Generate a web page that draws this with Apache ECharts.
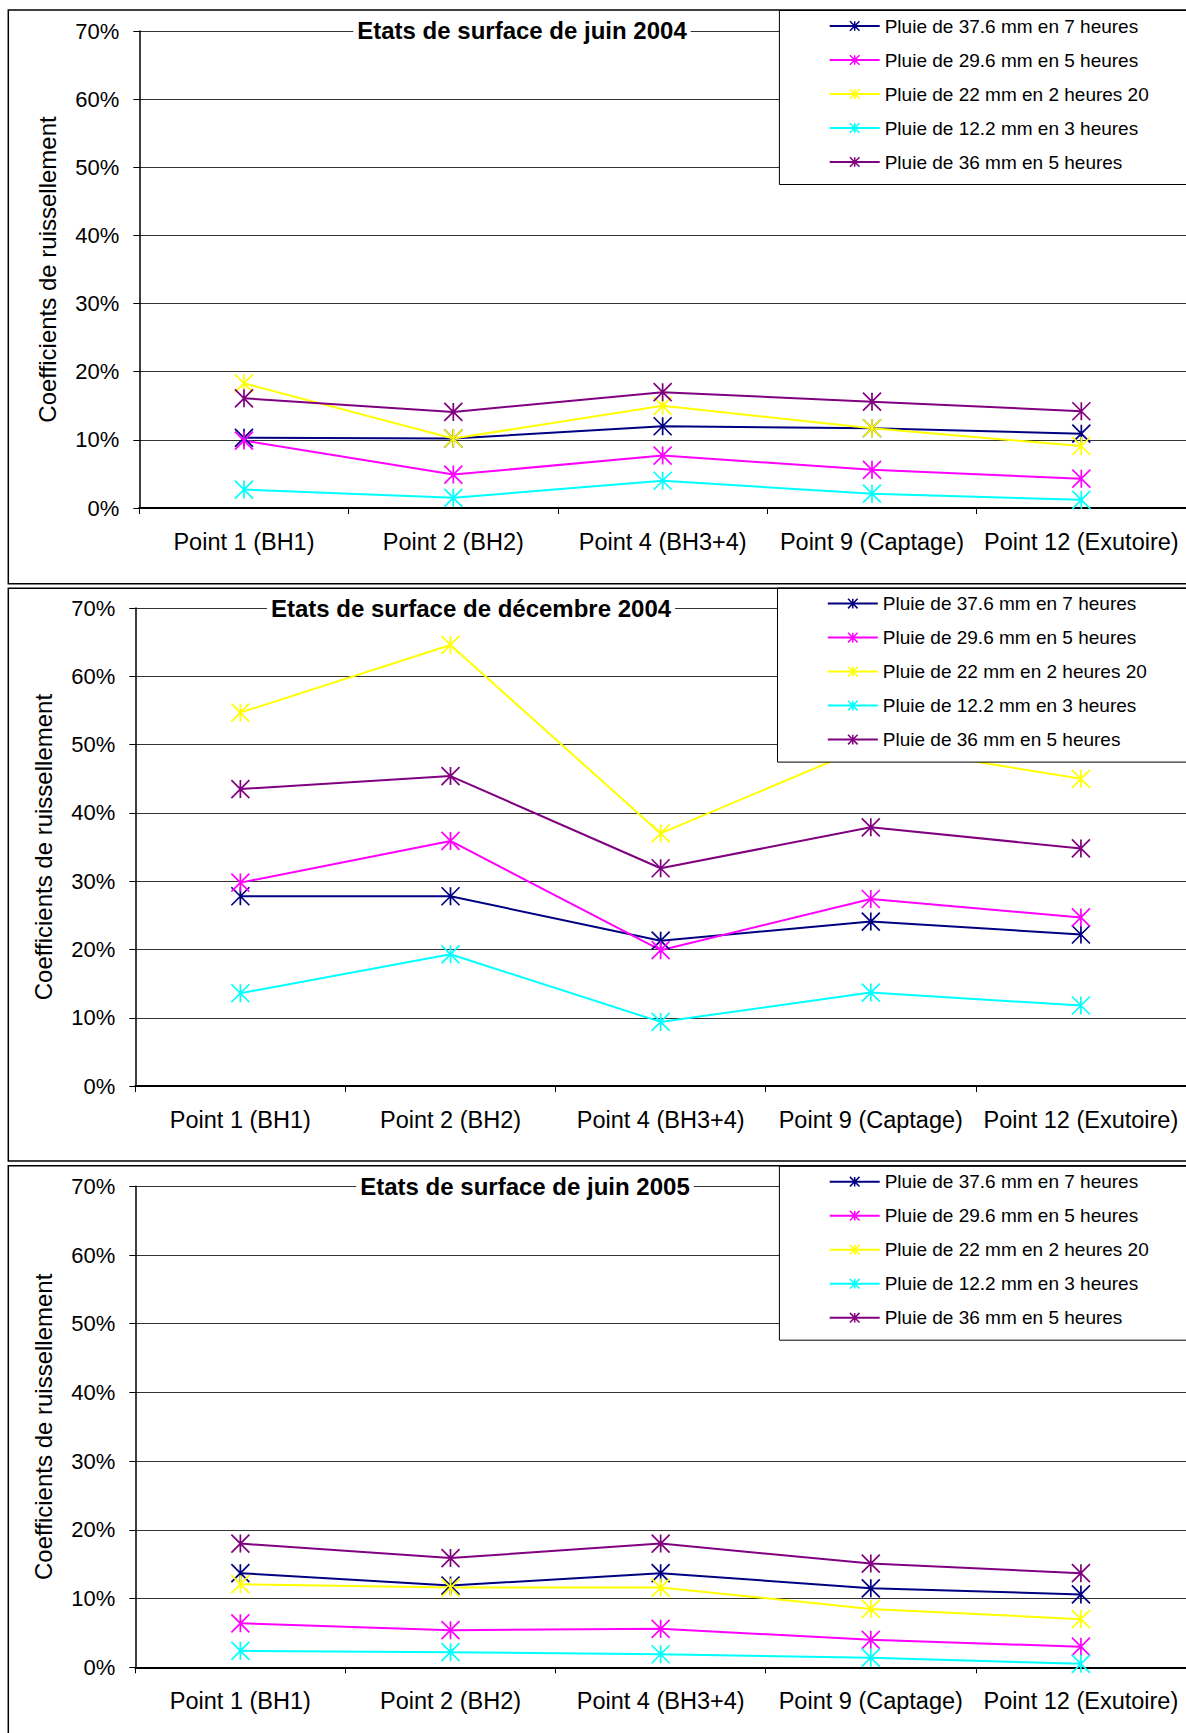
<!DOCTYPE html>
<html><head><meta charset="utf-8">
<script src="https://cdn.jsdelivr.net/npm/echarts@6/dist/echarts.min.js"></script>
<style>html,body{margin:0;padding:0;background:#fff}#c{width:1186px;height:1733px}</style>
</head><body><div id="c"></div>
<script>
// ---------- DATA ----------
const categories = ['Point 1 (BH1)', 'Point 2 (BH2)', 'Point 4 (BH3+4)', 'Point 9 (Captage)', 'Point 12 (Exutoire)'];
const seriesNames = ['Pluie de 37.6 mm en 7 heures', 'Pluie de 29.6 mm en 5 heures', 'Pluie de 22 mm en 2 heures 20', 'Pluie de 12.2 mm en 3 heures', 'Pluie de 36 mm en 5 heures'];
const panelTitles = ['Etats de surface de juin 2004', 'Etats de surface de décembre 2004', 'Etats de surface de juin 2005'];
const yAxisTitle = 'Coefficients de ruissellement';
const yMin = 0, yMax = 70, yStep = 10; // tick labels 0% .. 70%

// juin 2004 (%)
const juin2004_pluie37_6 = [10.3, 10.2, 12.0, 11.7, 10.9];
const juin2004_pluie29_6 = [9.9, 4.9, 7.7, 5.6, 4.3];
const juin2004_pluie22 = [18.3, 10.2, 15.0, 11.7, 9.1];
const juin2004_pluie12_2 = [2.7, 1.5, 4.0, 2.1, 1.2];
const juin2004_pluie36 = [16.1, 14.1, 17.0, 15.6, 14.2];

// décembre 2004 (%)
const dec2004_pluie37_6 = [27.8, 27.8, 21.3, 24.1, 22.2];
const dec2004_pluie29_6 = [29.8, 35.9, 19.9, 27.4, 24.7];
const dec2004_pluie22 = [54.7, 64.6, 37.0, 50.0, 45.0];
const dec2004_pluie12_2 = [13.6, 19.3, 9.4, 13.7, 11.8];
const dec2004_pluie36 = [43.5, 45.4, 31.9, 37.9, 34.8];

// juin 2005 (%)
const juin2005_pluie37_6 = [13.7, 11.9, 13.7, 11.5, 10.6];
const juin2005_pluie29_6 = [6.4, 5.4, 5.6, 4.0, 3.0];
const juin2005_pluie22 = [12.1, 11.6, 11.6, 8.5, 7.0];
const juin2005_pluie12_2 = [2.4, 2.2, 1.9, 1.4, 0.5];
const juin2005_pluie36 = [18.0, 15.9, 18.0, 15.1, 13.7];

const panelData = [
  [juin2004_pluie37_6, juin2004_pluie29_6, juin2004_pluie22, juin2004_pluie12_2, juin2004_pluie36],
  [dec2004_pluie37_6, dec2004_pluie29_6, dec2004_pluie22, dec2004_pluie12_2, dec2004_pluie36],
  [juin2005_pluie37_6, juin2005_pluie29_6, juin2005_pluie22, juin2005_pluie12_2, juin2005_pluie36]
];

// ---------- STYLE / LAYOUT ----------
const colors = ['#000080', '#FF00FF', '#FFFF00', '#00FFFF', '#800080'];
const FONT = '"Liberation Sans", Arial, sans-serif';
const STAR = 'path://M0 0L20 20M20 0L0 20M10 0L10 20';

const grids = [
  {left: 139.3, top: 31, width: 1053, height: 477},
  {left: 135.3, top: 608.1, width: 1055, height: 478},
  {left: 135.3, top: 1186.3, width: 1055, height: 481}
];
const titlePos = [[522, 30.5], [471, 608], [525, 1186]];
const legendPos = [[779.4, 10.5], [777.5, 588.1], [779.4, 1166.2]];
const panelRects = [[8.3, 10, 1300, 573.7], [8.3, 588.3, 1300, 572.7], [8.3, 1165.7, 1300, 700]];

const option = {
  animation: false,
  backgroundColor: '#fff',
  grid: grids.map(g => Object.assign({containLabel: false}, g)),
  xAxis: grids.map((g, i) => ({
    type: 'category', gridIndex: i, data: categories, boundaryGap: true,
    axisLine: {lineStyle: {color: '#000', width: 2}},
    axisTick: {show: true, length: 6, lineStyle: {color: '#000', width: 1}},
    axisLabel: {interval: 0, color: '#000', fontSize: 23.5, fontFamily: FONT, margin: 22},
    splitLine: {show: false}
  })),
  yAxis: grids.map((g, i) => ({
    type: 'value', gridIndex: i, min: yMin, max: yMax, interval: yStep,
    name: yAxisTitle, nameLocation: 'middle', nameRotate: 90, nameGap: 80,
    nameTextStyle: {fontSize: 24, color: '#000', fontFamily: FONT},
    axisLine: {show: true, lineStyle: {color: '#000', width: 1.5}},
    axisTick: {show: true, length: 6, lineStyle: {color: '#000', width: 1}},
    axisLabel: {formatter: '{value}%', color: '#000', fontSize: 22, fontFamily: FONT, margin: 20},
    splitLine: {show: true, lineStyle: {color: '#333', width: 1}}
  })),
  legend: legendPos.map(p => ({
    left: p[0], top: p[1], orient: 'vertical', data: seriesNames,
    itemWidth: 50, itemHeight: 12, itemGap: 14,
    padding: [5.5, 400, 12.5, 49.3],
    backgroundColor: '#fff', borderColor: '#000', borderWidth: 1,
    selectedMode: false,
    itemStyle: {borderWidth: 1.5},
    lineStyle: {width: 2},
    textStyle: {fontSize: 19, color: '#000', fontFamily: FONT, lineHeight: 20}
  })),
  series: [],
  graphic: []
};

panelData.forEach((sets, i) => {
  sets.forEach((vals, j) => {
    option.series.push({
      type: 'line', name: seriesNames[j], xAxisIndex: i, yAxisIndex: i,
      data: vals, symbol: STAR, symbolSize: 18, showAllSymbol: true,
      lineStyle: {color: colors[j], width: 2},
      itemStyle: {color: colors[j], borderColor: colors[j], borderWidth: 1.7},
      emphasis: {disabled: true}
    });
  });
});

panelRects.forEach(r => {
  option.graphic.push({type: 'rect', z: 20, silent: true,
    shape: {x: r[0], y: r[1], width: r[2], height: r[3]},
    style: {fill: 'none', stroke: '#000', lineWidth: 1.5}});
});
panelTitles.forEach((t, i) => {
  option.graphic.push({type: 'text', z: 20, silent: true, x: titlePos[i][0], y: titlePos[i][1],
    style: {text: t, fill: '#000', fontSize: 24, fontWeight: 'bold', fontFamily: FONT,
      align: 'center', verticalAlign: 'middle', backgroundColor: '#fff', padding: [1, 4]}});
});

const chart = echarts.init(document.getElementById('c'), null, {renderer: 'svg'});
chart.setOption(option);
</script>
</body></html>
